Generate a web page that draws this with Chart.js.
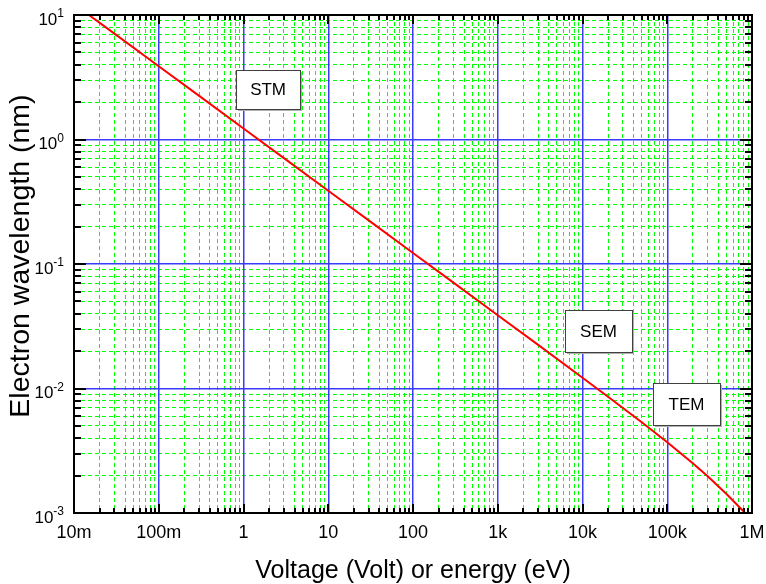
<!DOCTYPE html>
<html><head><meta charset="utf-8">
<script src="https://cdn.jsdelivr.net/npm/chart.js@4"></script>
<style>html,body{margin:0;padding:0;background:#fff}</style>
</head><body>
<canvas id="c" width="766" height="584"></canvas>
<script>
// ---- data ----
const voltage    = [0.015, 0.03, 0.1, 0.3, 1, 3, 10, 30, 100, 300, 1000, 3000, 10000, 20000, 50000, 100000, 200000, 300000, 500000, 830000];
const wavelength = [10.0, 7.08, 3.88, 2.24, 1.226, 0.708, 0.388, 0.224, 0.1226, 0.0708, 0.0388, 0.0224, 0.0122, 0.00859, 0.00535, 0.0037, 0.00251, 0.00197, 0.00142, 0.0010];
const xMajorTicks = [0.01, 0.1, 1, 10, 100, 1000, 1e4, 1e5, 1e6];
const xTickLabels = ['10m', '100m', '1', '10', '100', '1k', '10k', '100k', '1M'];
const yMajorTicks = [1e-3, 1e-2, 1e-1, 1, 10];
const yTickExponents = ['-3', '-2', '-1', '0', '1'];
const boxLabels = ['STM', 'SEM', 'TEM'];
const boxAnchorX = [1.95, 15450, 168700];
const boxAnchorY = [2.52, 0.029, 0.00751];

const FONT = "'Liberation Sans', Arial, Helvetica, sans-serif";

function isMajor(v) { const l = Math.log10(v); return Math.abs(l - Math.round(l)) < 1e-6; }
function minorsOf(majors) {
  const out = [];
  for (let i = 0; i < majors.length - 1; i++) for (let m = 2; m <= 9; m++) out.push(m * majors[i]);
  return out;
}
const xMinorTicks = minorsOf(xMajorTicks);
const yMinorTicks = minorsOf(yMajorTicks);

const framePlugin = {
  id: 'frame',
  afterDraw(chart) {
    const { ctx, chartArea: a, scales: { x, y } } = chart;
    ctx.save();
    // annotation boxes
    ctx.font = '17px ' + FONT;
    ctx.textAlign = 'center';
    ctx.textBaseline = 'middle';
    boxLabels.forEach((t, i) => {
      const cx = x.getPixelForValue(boxAnchorX[i]);
      const cy = y.getPixelForValue(boxAnchorY[i]);
      const w = i === 0 ? 64 : 67, h = i === 0 ? 39 : 42;
      const l = Math.round(cx - w / 2) + 0.5, tp = Math.round(cy - h / 2) + 0.5;
      ctx.fillStyle = '#b0b0b0';
      ctx.fillRect(l + 1.5, tp + 1.5, w, h);
      ctx.fillStyle = '#fff';
      ctx.fillRect(l, tp, w, h);
      ctx.strokeStyle = '#404040';
      ctx.lineWidth = 1;
      ctx.strokeRect(l, tp, w, h);
      ctx.fillStyle = '#000';
      ctx.fillText(t, cx, cy + 1);
    });
    // tick marks (inward on all four sides)
    ctx.strokeStyle = '#000';
    ctx.lineWidth = 2;
    ctx.beginPath();
    xMajorTicks.concat(xMinorTicks).forEach(v => {
      const px = Math.round(x.getPixelForValue(v));
      const L = isMajor(v) ? 9 : 5;
      ctx.moveTo(px, a.bottom); ctx.lineTo(px, a.bottom - L);
      ctx.moveTo(px, a.top); ctx.lineTo(px, a.top + L);
    });
    yMajorTicks.concat(yMinorTicks).forEach(v => {
      const py = Math.round(y.getPixelForValue(v));
      const L = isMajor(v) ? 12 : 7;
      ctx.moveTo(a.left, py); ctx.lineTo(a.left + L, py);
      ctx.moveTo(a.right, py); ctx.lineTo(a.right - L, py);
    });
    ctx.stroke();
    ctx.strokeRect(a.left, a.top, a.right - a.left, a.bottom - a.top);
    // y tick labels 10^n
    ctx.fillStyle = '#000';
    ctx.textBaseline = 'alphabetic';
    ctx.textAlign = 'right';
    yMajorTicks.forEach((v, i) => {
      const py = y.getPixelForValue(v);
      const rx = a.left - 10;
      ctx.font = '12px ' + FONT;
      const ew = ctx.measureText(yTickExponents[i]).width;
      ctx.fillText(yTickExponents[i], rx, py + 2);
      ctx.font = '17px ' + FONT;
      ctx.fillText('10', rx - ew, py + 9.5);
    });
    ctx.restore();
  }
};

const noPad = s => { s.paddingLeft = 0; s.paddingRight = 0; s.paddingTop = 0; s.paddingBottom = 0; };

new Chart(document.getElementById('c'), {
  type: 'line',
  data: {
    datasets: [{
      data: voltage.map((v, i) => ({ x: v, y: wavelength[i] })),
      xAxisID: 'x', yAxisID: 'y',
      borderColor: '#ff0000',
      borderWidth: 2,
      pointRadius: 0,
      fill: false,
      tension: 0
    }]
  },
  options: {
    responsive: false,
    animation: false,
    layout: { padding: { top: 15, right: 14, left: 0, bottom: 0 } },
    plugins: { legend: { display: false }, tooltip: { enabled: false } },
    scales: {
      xMinor: {
        type: 'logarithmic', position: 'bottom',
        min: 0.01, max: 1e6,
        afterBuildTicks: s => { s.ticks = xMinorTicks.map(v => ({ value: v })); },
        afterFit: s => { s.height = 0; noPad(s); },
        grid: { color: '#00ff00', lineWidth: 1, drawTicks: false, z: -2 },
        border: { display: false, dash: [4, 3] },
        ticks: { display: false }
      },
      yMinor: {
        type: 'logarithmic', position: 'left',
        min: 1e-3, max: 10,
        afterBuildTicks: s => { s.ticks = yMinorTicks.map(v => ({ value: v })); },
        afterFit: s => { s.width = 0; noPad(s); },
        grid: { color: '#00ff00', lineWidth: 1, drawTicks: false, z: -2 },
        border: { display: false, dash: [4, 3] },
        ticks: { display: false }
      },
      x: {
        type: 'logarithmic', position: 'bottom',
        min: 0.01, max: 1e6,
        afterBuildTicks: s => { s.ticks = xMajorTicks.map(v => ({ value: v })); },
        afterFit: s => { s.height = 71; noPad(s); },
        grid: { color: '#3a3aff', lineWidth: 1.5, drawTicks: false, z: -1 },
        border: { display: false },
        ticks: {
          autoSkip: false, maxRotation: 0, minRotation: 0, padding: 9,
          color: '#000', font: { family: FONT, size: 18 },
          callback: (v, i) => xTickLabels[i]
        },
        title: { display: true, text: 'Voltage (Volt) or energy (eV)', color: '#000', font: { family: FONT, size: 25, lineHeight: 1 }, padding: { top: 0, bottom: 0 } }
      },
      y: {
        type: 'logarithmic', position: 'left',
        min: 1e-3, max: 10,
        afterBuildTicks: s => { s.ticks = yMajorTicks.map(v => ({ value: v })); },
        afterFit: s => { s.width = 74; noPad(s); },
        grid: { color: '#3a3aff', lineWidth: 1.5, drawTicks: false, z: -1 },
        border: { display: false },
        ticks: { display: false },
        title: { display: true, text: '  Electron wavelength (nm)', color: '#000', font: { family: FONT, size: 28.5, lineHeight: 1 }, padding: { top: 7, bottom: 0 } }
      }
    }
  },
  plugins: [framePlugin]
});
</script>
</body></html>
